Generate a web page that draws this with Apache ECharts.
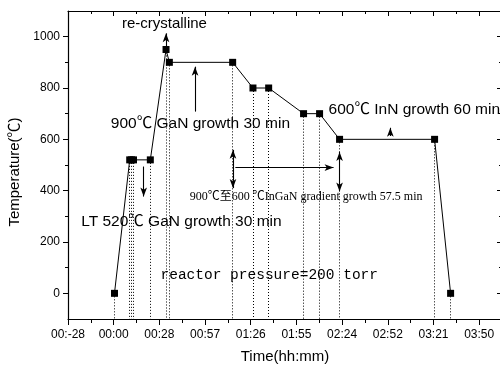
<!DOCTYPE html>
<html><head><meta charset="utf-8">
<script src="https://cdn.jsdelivr.net/npm/echarts@6/dist/echarts.min.js"></script>
<style>html,body{margin:0;padding:0;background:#fff}#c{width:500px;height:367px}</style>
</head><body><div id="c"></div>
<script>
// ---- data (time in minutes, temperature in °C) ----
const timeMin = [0.5, 10.1, 11.3, 12.5, 23.1, 33.0, 35.1, 75.0, 87.8, 97.7, 119.7, 129.8, 142.4, 202.3, 212.4];
const tempC   = [0, 520, 520, 520, 520, 950, 900, 900, 800, 800, 700, 700, 600, 600, 0];
const xTickLabels = ['00:-28','00:00','00:28','00:57','01:26','01:55','02:24','02:52','03:21','03:50'];
const yTickValues = [0, 200, 400, 600, 800, 1000];
const X_MIN = -28.8, X_STEP = 28.8, X_MAX = 244.8;
const Y_MIN = -100, Y_MAX = 1100;

const SANS = "'Liberation Sans', Arial, 'Noto Sans CJK SC', sans-serif";
const SERIF = "'Liberation Serif', 'Noto Sans CJK SC', serif";
const MONO = "'Liberation Mono', 'Noto Sans CJK SC', monospace";

// annotation texts (data coordinates)
const notes = [
  { text: 're-crystalline', x: 32.0, y: 1048, align: 'center', family: SANS, size: 15 },
  { text: '900℃ GaN growth 30 min', x: -1.8, y: 660, align: 'left', family: SANS, size: 15.5 },
  { text: 'LT 520℃ GaN growth 30 min', x: -20.5, y: 280, align: 'left', family: SANS, size: 15.5 },
  { text: '900℃至600 ℃InGaN gradient growth 57.5 min', x: 48.0, y: 377, align: 'left', family: SERIF, size: 12 },
  { text: '600℃ InN growth 60 min', x: 135.5, y: 715, align: 'left', family: SANS, size: 15.5 },
  { text: 'reactor pressure=200 torr', x: 29.5, y: 70, align: 'left', family: MONO, size: 14.5 }
];
// arrows: [x1, y1, x2, y2, headAtStart, headAtEnd]
const arrows = [
  [33.0, 961, 33.0, 1013, false, true],
  [51.3, 708, 51.3, 883, false, true],
  [18.9, 494, 18.9, 377, false, true],
  [75.2, 559, 75.2, 410, true, true],
  [76.7, 490, 138.6, 490, false, true],
  [142.4, 551, 142.4, 397, true, true],
  [174.4, 613, 174.4, 645, false, true]
];

const xMajor = xTickLabels.map((_, i) => X_MIN + i * X_STEP);
const xMinor = xMajor.map(v => v + X_STEP / 2);
const yMinor = yTickValues.slice(0, -1).map((v, i) => (v + yTickValues[i + 1]) / 2);

const chart = echarts.init(document.getElementById('c'), null, { renderer: 'canvas' });

const axisLine = { show: true, onZero: false, lineStyle: { color: '#000', width: 1.2 } };
const noLine = { show: false, onZero: false };
function xAx(pos, vals, len, inside, labels) {
  return {
    type: 'value', position: pos, min: X_MIN, max: X_MAX,
    axisLine: labels ? axisLine : noLine,
    axisTick: { show: true, inside: inside, length: len, customValues: vals, lineStyle: { color: '#000', width: 1 } },
    axisLabel: labels ? {
      show: true, customValues: xMajor, color: '#000', fontSize: 12, fontFamily: SANS, margin: 10,
      formatter: v => { const i = Math.round((v - X_MIN) / X_STEP); return xTickLabels[i] || ''; }
    } : { show: false },
    splitLine: { show: false }
  };
}
function yAx(pos, vals, len, inside, labels) {
  return {
    type: 'value', position: pos, min: Y_MIN, max: Y_MAX,
    axisLine: labels ? axisLine : noLine,
    axisTick: { show: true, inside: inside, length: len, customValues: vals, lineStyle: { color: '#000', width: 1 } },
    axisLabel: labels ? { show: true, customValues: yTickValues, color: '#000', fontSize: 12, fontFamily: SANS, margin: 8,
      formatter: v => String(v) } : { show: false },
    splitLine: { show: false }
  };
}

const xAxes = [
  Object.assign(xAx('bottom', xMajor, 6, false, true), { name: 'Time(hh:mm)', nameLocation: 'middle', nameGap: 30,
    nameTextStyle: { color: '#000', fontSize: 15, fontFamily: SANS } }),
  xAx('bottom', xMinor, 4, false, false),
  Object.assign(xAx('top', xMajor, 5, true, false), { axisLine: axisLine }),
  xAx('top', xMinor, 3, true, false)
];
const yAxes = [
  Object.assign(yAx('left', yTickValues, 5, false, true), { name: 'Temperature(℃)', nameLocation: 'middle', nameGap: 42,
    nameTextStyle: { color: '#000', fontSize: 15, fontFamily: SANS, padding: [0, 14, 0, 0] } }),
  yAx('left', yMinor, 3, false, false),
  Object.assign(yAx('right', yTickValues, 5, true, false), { axisLine: axisLine }),
  yAx('right', yMinor, 3, true, false)
];

const dotted = timeMin.map((t, i) => [
  { coord: [t, tempC[i]], symbol: 'none' },
  { coord: [t, Y_MIN], symbol: 'none' }
]);
const arrowLines = arrows.map(a => [
  { coord: [a[0], a[1]], symbol: a[4] ? 'arrow' : 'none', lineStyle: { type: 'solid', width: 1.1, color: '#000' } },
  { coord: [a[2], a[3]], symbol: a[5] ? 'arrow' : 'none' }
]);

chart.setOption({
  animation: false,
  textStyle: { fontFamily: SANS },
  grid: { left: 68, right: -2, top: 11, bottom: 48, containLabel: false, outerBoundsMode: 'none' },
  xAxis: xAxes,
  yAxis: yAxes,
  series: [{
    type: 'line', xAxisIndex: 0, yAxisIndex: 0,
    data: timeMin.map((t, i) => [t, tempC[i]]),
    symbol: 'rect', symbolSize: 7, showSymbol: true,
    itemStyle: { color: '#000' },
    lineStyle: { color: '#000', width: 1 },
    z: 5,
    markLine: {
      silent: true, animation: false, precision: 4,
      symbol: ['none', 'none'], symbolSize: [5, 9],
      label: { show: false },
      emphasis: { disabled: true },
      lineStyle: { color: '#000', width: 1, type: [1, 2] },
      data: dotted.concat(arrowLines)
    }
  }]
});

const graphics = notes.map(n => {
  const p = chart.convertToPixel({ xAxisIndex: 0, yAxisIndex: 0 }, [n.x, n.y]);
  return {
    type: 'text', x: p[0], y: p[1], z: 10, silent: true,
    style: { text: n.text, fill: '#000', fontSize: n.size, fontFamily: n.family, align: n.align, verticalAlign: 'middle' }
  };
});
chart.setOption({ graphic: graphics });
</script>
</body></html>
